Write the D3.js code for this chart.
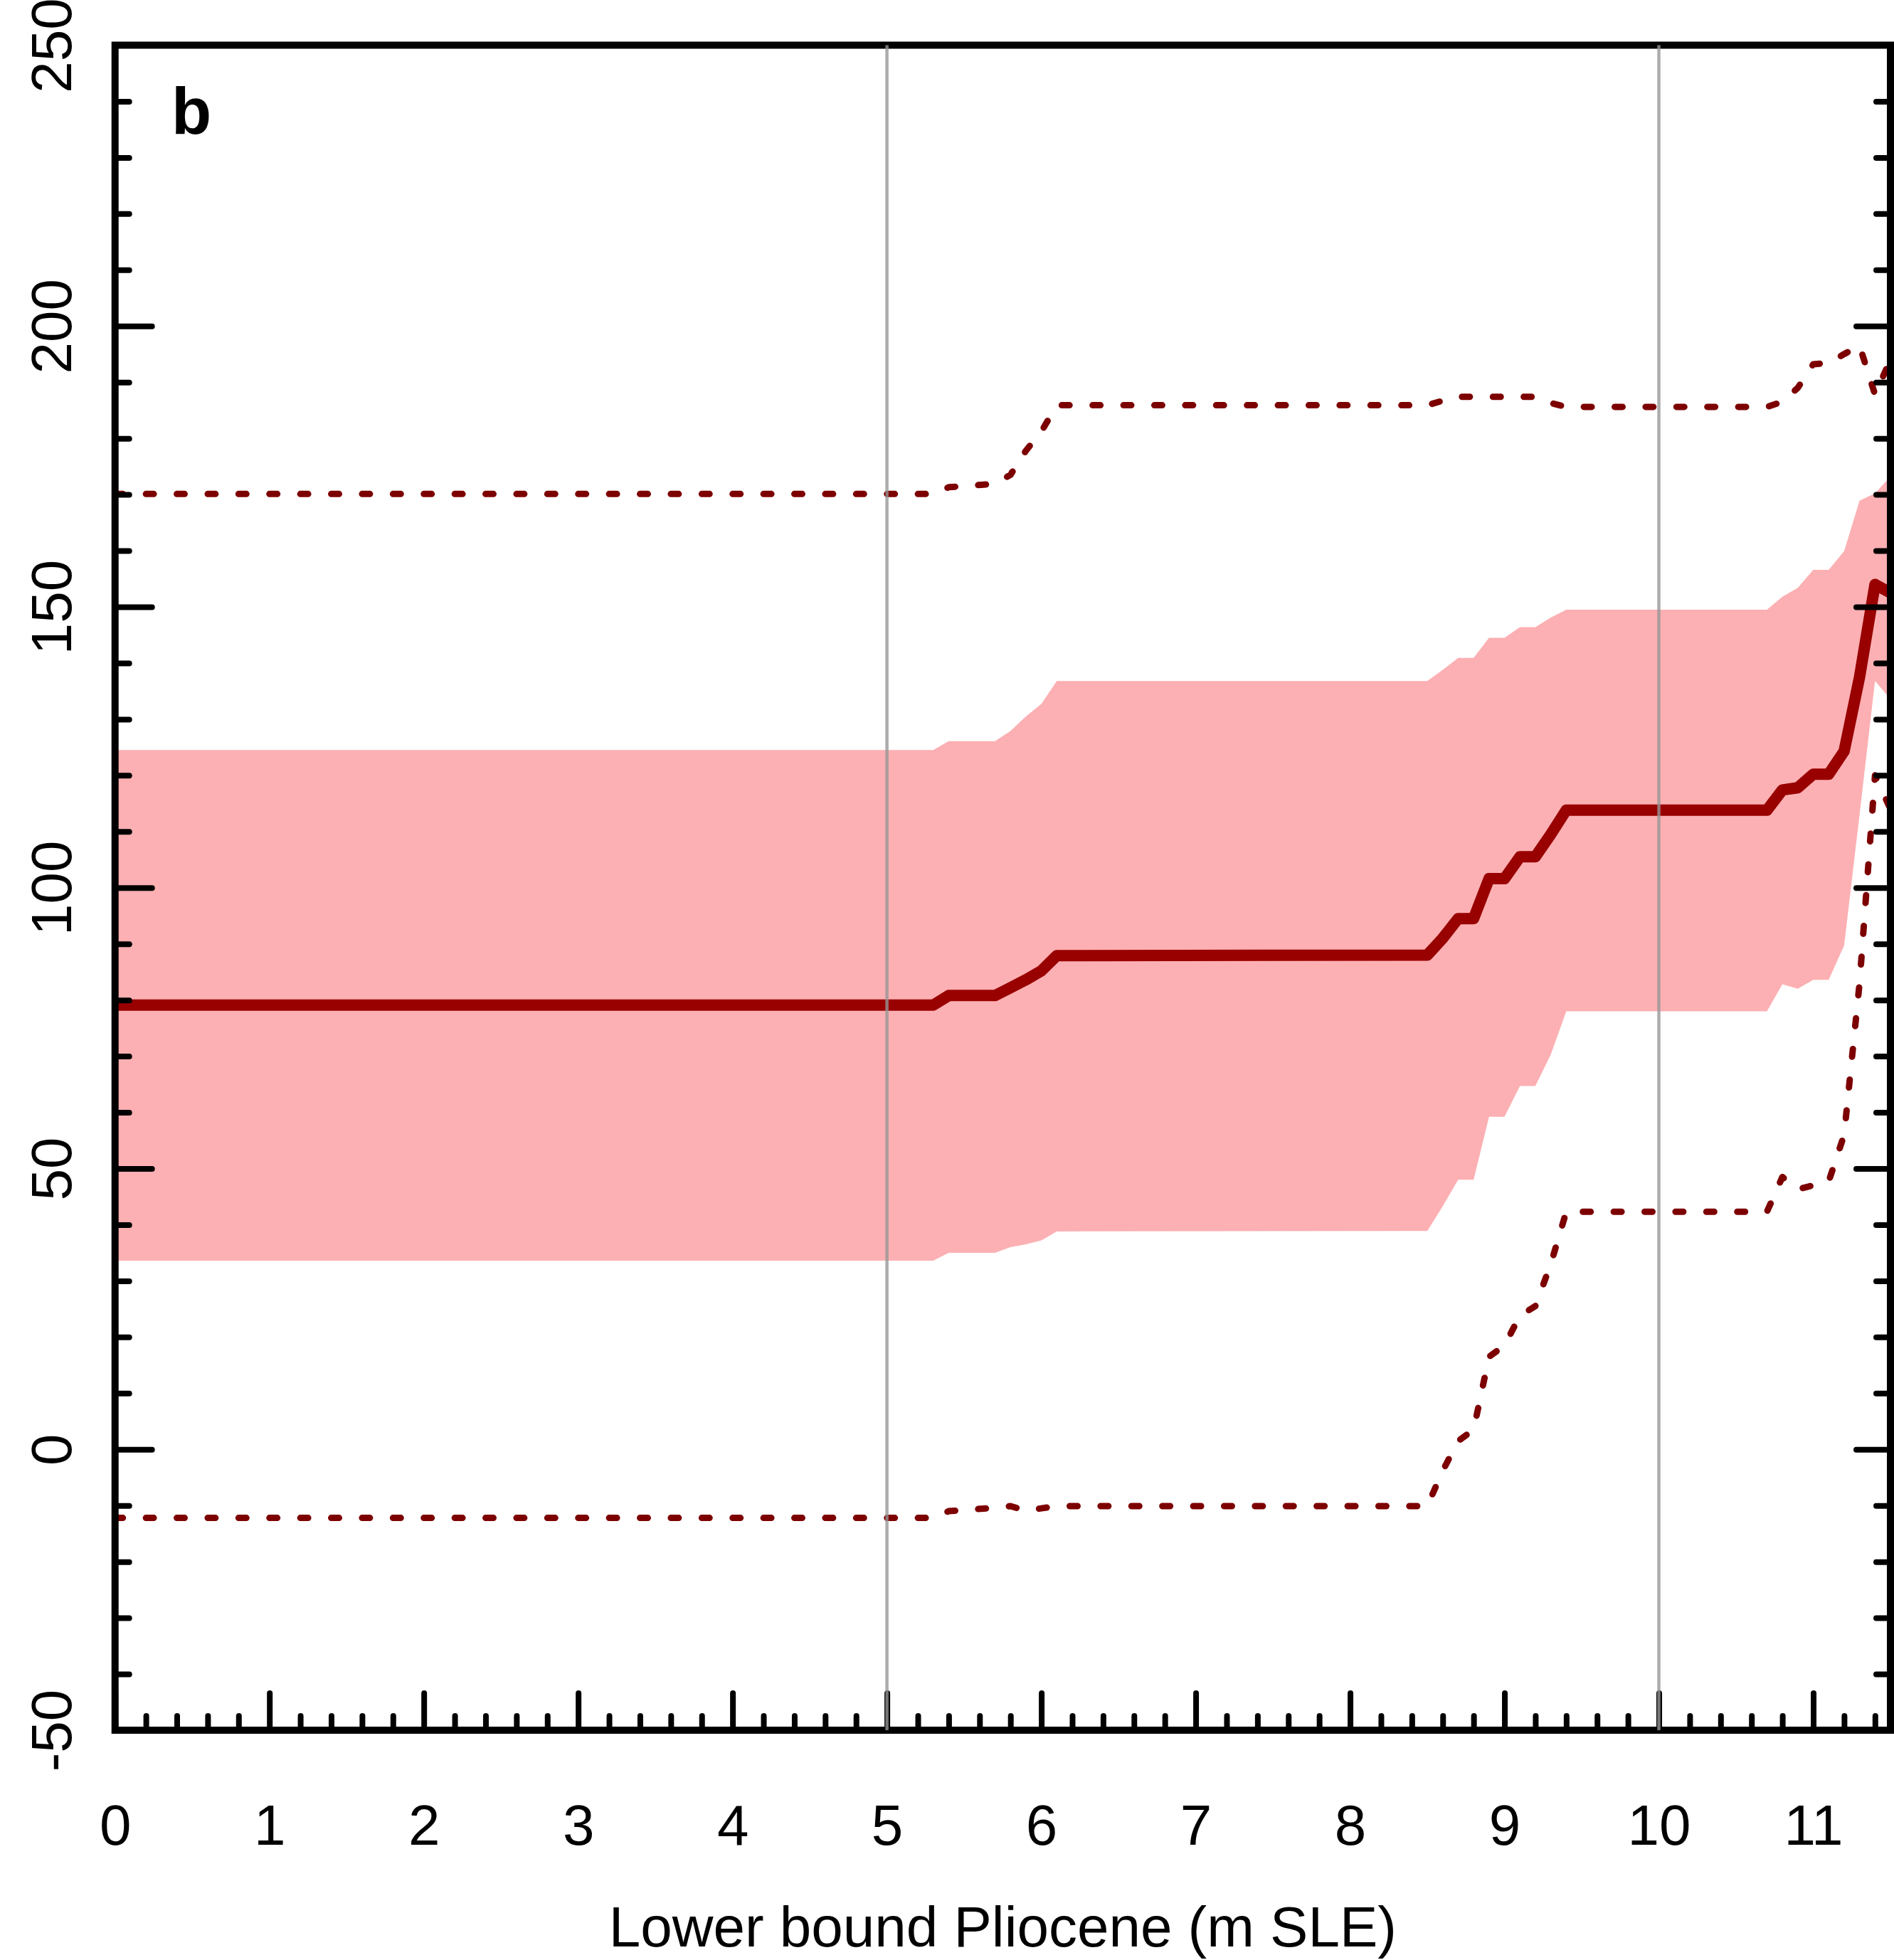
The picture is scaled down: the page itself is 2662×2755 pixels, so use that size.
<!DOCTYPE html>
<html>
<head>
<meta charset="utf-8">
<script src="https://cdn.jsdelivr.net/npm/d3@7"></script>
<style>
  html, body { margin: 0; padding: 0; background: #ffffff; }
  svg { display: block; }
  text { font-family: "Liberation Sans", Arial, Helvetica, sans-serif; }
</style>
</head>
<body>
<svg id="chart" width="2662" height="2755"></svg>
<script>
// ---------------- data ----------------
const xGrid      = [0, 5.3, 5.4, 5.7, 5.8, 5.9, 6.0, 6.1, 8.5, 8.6, 8.7, 8.8, 8.9, 9.0, 9.1, 9.2, 9.3, 9.4, 10.7, 10.8, 10.9, 11.0, 11.1, 11.2, 11.3, 11.4, 11.5];
const medianVals = [79.1, 79.1, 80.8, 80.8, 82.2, 83.6, 85.2, 87.9, 88.0, 91.0, 94.5, 94.5, 101.6, 101.6, 105.5, 105.5, 109.5, 113.8, 113.8, 117.4, 117.8, 120.2, 120.2, 124.3, 137.5, 154.0, 152.5];
const bandLower  = [33.6, 33.6, 35.0, 35.0, 36.0, 36.5, 37.2, 38.8, 38.9, 43.3, 48.0, 48.0, 59.2, 59.2, 64.7, 64.7, 70.3, 78.0, 78.0, 82.8, 82.0, 83.6, 83.6, 89.7, 113.0, 136.8, 133.6];
const bandUpper  = [124.5, 124.5, 126.1, 126.1, 127.9, 130.5, 132.7, 136.8, 136.8, 138.8, 140.9, 140.9, 144.5, 144.5, 146.4, 146.4, 148.1, 149.5, 149.5, 151.8, 153.4, 156.6, 156.6, 159.9, 168.9, 170.2, 173.2];
const dashLower  = [-12.2, -12.2, -11.0, -10.4, -10.1, -10.9, -10.5, -10.1, -10.1, -3.8, 1.5, 3.5, 16.5, 18.5, 23.8, 25.5, 33.0, 42.3, 42.3, 48.5, 46.3, 47.0, 47.7, 56.0, 83.0, 120.0, 114.0];
const dashUpper  = [170.1, 170.1, 171.3, 171.9, 173.5, 177.8, 181.2, 185.9, 185.9, 186.7, 187.4, 187.4, 187.4, 187.4, 187.4, 187.4, 186.3, 185.6, 185.6, 186.5, 189.0, 193.2, 193.4, 195.0, 196.5, 187.8, 194.0];
const refLinesX  = [5, 10];
const xTickLabels = [0, 1, 2, 3, 4, 5, 6, 7, 8, 9, 10, 11];
const yTickLabels = [-50, 0, 50, 100, 150, 200, 250];
const panelLabel = "b";
const xTitle = "Lower bound Pliocene (m SLE)";

// ---------------- layout ----------------
const L = 161.7, R = 2657, T = 63.5, B = 2432;
const svg = d3.select("#chart");

const x = d3.scaleLinear().domain([0, 11.5]).range([L, R]);
const y = d3.scaleLinear().domain([-50, 250]).range([B, T]);

const idx = d3.range(xGrid.length);
const fmt = v => String(v); // plain hyphen-minus, like the reference

// band
const area = d3.area()
  .x(i => x(xGrid[i]))
  .y0(i => y(bandLower[i]))
  .y1(i => y(bandUpper[i]));
svg.append("path").datum(idx)
  .attr("d", area)
  .attr("fill", "#fcb0b3")
  .attr("stroke", "none");

// dashed bounds
const lineOf = arr => d3.line().x(i => x(xGrid[i])).y(i => y(arr[i]));
[dashUpper, dashLower].forEach(arr => {
  svg.append("path").datum(idx)
    .attr("d", lineOf(arr))
    .attr("fill", "none")
    .attr("stroke", "#7d0000")
    .attr("stroke-width", 9)
    .attr("stroke-linecap", "round")
    .attr("stroke-linejoin", "round")
    .attr("stroke-dasharray", "11 32.4");
});

// median
svg.append("path").datum(idx)
  .attr("d", lineOf(medianVals))
  .attr("fill", "none")
  .attr("stroke", "#990000")
  .attr("stroke-width", 16)
  .attr("stroke-linejoin", "round")
  .attr("stroke-linecap", "butt");

// ---------------- axes ----------------
function styleAxis(g) {
  g.select(".domain").remove();
  g.selectAll(".tick line")
    .attr("stroke", "#000")
    .attr("stroke-width", 8)
    .attr("stroke-linecap", "round");
}

const xMinor = d3.range(0, 11.5001, 0.2).map(v => +v.toFixed(1)).filter(v => Math.abs(v - Math.round(v)) > 1e-6);
const yMinor = d3.range(-50, 250.001, 10).filter(v => v % 50 !== 0);

// bottom minor
svg.append("g").attr("transform", `translate(0,${B})`)
  .call(d3.axisBottom(x).tickValues(xMinor).tickSize(-20).tickFormat(""))
  .call(styleAxis);
// bottom major
const gx = svg.append("g").attr("transform", `translate(0,${B})`)
  .call(d3.axisBottom(x).tickValues(xTickLabels).tickSize(-52).tickFormat(fmt))
  .call(styleAxis);
gx.selectAll(".tick text")
  .attr("y", 161).attr("dy", null)
  .attr("font-size", 80)
  .attr("fill", "#000");

// left minor
svg.append("g").attr("transform", `translate(${L},0)`)
  .call(d3.axisLeft(y).tickValues(yMinor).tickSize(-20).tickFormat(""))
  .call(styleAxis);
// left major
const gy = svg.append("g").attr("transform", `translate(${L},0)`)
  .call(d3.axisLeft(y).tickValues(yTickLabels).tickSize(-52).tickFormat(fmt))
  .call(styleAxis);
gy.selectAll(".tick text")
  .attr("transform", "rotate(-90)")
  .attr("x", 0).attr("y", -62).attr("dy", null)
  .attr("text-anchor", "middle")
  .attr("font-size", 80)
  .attr("fill", "#000");

// right minor + major
svg.append("g").attr("transform", `translate(${R},0)`)
  .call(d3.axisRight(y).tickValues(yMinor).tickSize(-20).tickFormat(""))
  .call(styleAxis);
svg.append("g").attr("transform", `translate(${R},0)`)
  .call(d3.axisRight(y).tickValues(yTickLabels).tickSize(-48).tickFormat(""))
  .call(styleAxis);

// frame
svg.append("rect")
  .attr("x", L).attr("y", T)
  .attr("width", R - L).attr("height", B - T)
  .attr("fill", "none")
  .attr("stroke", "#000")
  .attr("stroke-width", 10);

// reference vertical lines
svg.selectAll("line.ref").data(refLinesX).enter().append("line")
  .attr("class", "ref")
  .attr("x1", d => x(d)).attr("x2", d => x(d))
  .attr("y1", y(250)).attr("y2", y(-50))
  .attr("stroke", "#969696")
  .attr("stroke-opacity", 0.79)
  .attr("stroke-width", 4.5);

// panel label
svg.append("text")
  .attr("x", 241).attr("y", 188)
  .attr("font-size", 92)
  .attr("font-weight", "bold")
  .attr("fill", "#000")
  .text(panelLabel);

// x title
svg.append("text")
  .attr("x", (L + R) / 2).attr("y", 2736)
  .attr("text-anchor", "middle")
  .attr("font-size", 80)
  .attr("fill", "#000")
  .text(xTitle);
</script>
</body>
</html>
